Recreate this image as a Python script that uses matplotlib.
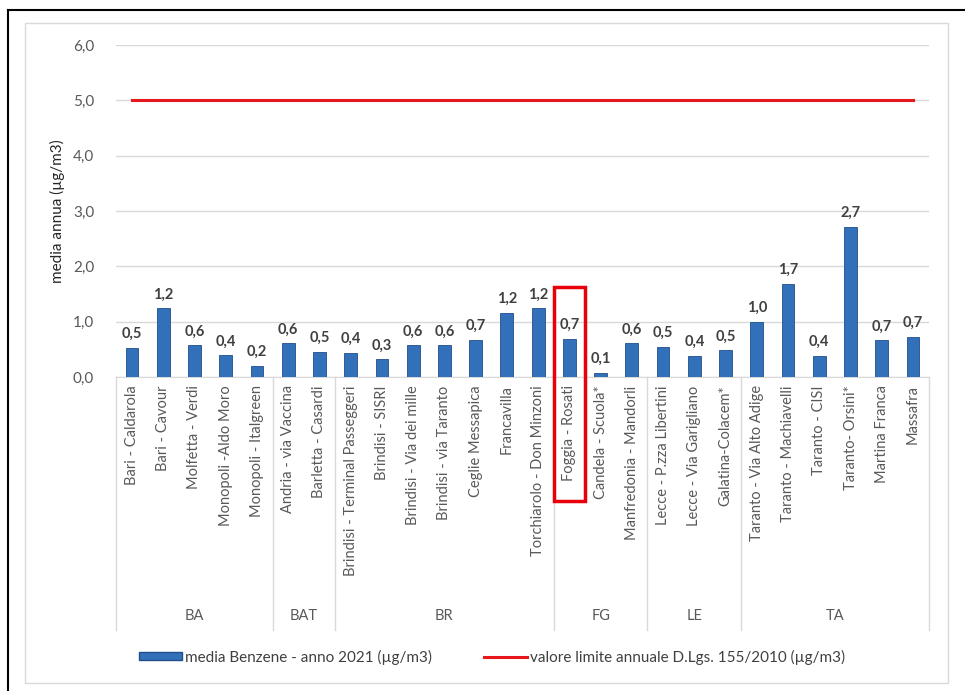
import matplotlib.pyplot as plt
import matplotlib.transforms as mtransforms
from matplotlib.patches import Rectangle, Patch
from matplotlib.lines import Line2D
import numpy as np

plt.rcParams['font.family'] = ['Lato', 'DejaVu Sans']

# stazioni e medie annue benzene 2021
stazioni = ['Bari - Caldarola', 'Bari - Cavour', 'Molfetta - Verdi', 'Monopoli -Aldo Moro',
            'Monopoli - Italgreen', 'Andria - via Vaccina', 'Barletta - Casardi',
            'Brindisi - Terminal Passeggeri', 'Brindisi - SISRI', 'Brindisi - Via dei mille',
            'Brindisi - via Taranto', 'Ceglie Messapica', 'Francavilla', 'Torchiarolo - Don Minzoni',
            'Foggia - Rosati', 'Candela - Scuola*', 'Manfredonia - Mandorli',
            'Lecce - P.zza Libertini', 'Lecce - Via Garigliano', 'Galatina-Colacem*',
            'Taranto - Via Alto Adige', 'Taranto - Machiavelli', 'Taranto - CISI',
            'Taranto- Orsini*', 'Martina Franca', 'Massafra']
media = [0.53, 1.24, 0.57, 0.39, 0.20, 0.61, 0.46, 0.44, 0.32, 0.57, 0.57, 0.67, 1.16, 1.24,
         0.69, 0.07, 0.61, 0.54, 0.38, 0.48, 1.00, 1.68, 0.38, 2.71, 0.66, 0.72]
province = ['BA', 'BAT', 'BR', 'FG', 'LE', 'TA']
n_prov = [5, 2, 7, 3, 3, 6]
limite = 5.0

fig = plt.figure(figsize=(9.65, 6.91), dpi=100)
ax = fig.add_axes([0.1206, 0.4544, 0.8417, 0.4805])

# cornici
fig.add_artist(Line2D([8/965, 1], [1-10/691, 1-10/691], color='black', lw=1.5))
fig.add_artist(Line2D([8/965, 8/965], [0, 1-10/691], color='black', lw=1.5))
fig.add_artist(Rectangle((25/965, 1-683/691), 923/965, 660/691, fill=False,
                         edgecolor='#D9D9D9', lw=1))

x = np.arange(len(stazioni))
ax.bar(x, media, width=0.41, color='#3271BA', edgecolor='#1F4E8A', lw=0.6, zorder=3)
ax.plot([x[0], x[-1]], [limite, limite], color='#E8171E', lw=2.2, zorder=4)

for xi, v in zip(x, media):
    ax.annotate(f'{v:.1f}'.replace('.', ','), (xi, v), xytext=(0, 5),
                textcoords='offset points', ha='center', va='bottom',
                fontsize=10.5, fontweight='bold', color='#404040')

ax.set_ylim(0, 6)
ax.set_xlim(-0.5, len(stazioni) - 0.5)
ax.set_yticks(range(7))
ax.set_yticklabels([f'{t:.1f}'.replace('.', ',') for t in range(7)])
ax.yaxis.grid(True, color='#D9D9D9', lw=1)
ax.set_axisbelow(True)
for s in ['top', 'right', 'left']:
    ax.spines[s].set_visible(False)
ax.spines['bottom'].set_color('#D9D9D9')
ax.tick_params(axis='y', length=0, pad=16, labelsize=11, labelcolor='#595959')
ax.set_xticks(x)
ax.set_xticklabels(stazioni, rotation=90, fontsize=10.5, color='#595959')
ax.tick_params(axis='x', length=0, pad=6)
ax.set_ylabel('media annua (µg/m3)', fontsize=11, color='#262626', labelpad=6)

# separatori e nomi delle province
trans = mtransforms.blended_transform_factory(ax.transData, ax.transAxes)
confini = np.concatenate([[0], np.cumsum(n_prov)]) - 0.5
for c in confini:
    ax.plot([c, c], [0, -0.762], color='#D9D9D9', lw=1, transform=trans, clip_on=False)
for p, a, b in zip(province, confini[:-1], confini[1:]):
    ax.text((a + b) / 2, -0.72, p, transform=trans, ha='center', va='center',
            fontsize=10.5, color='#595959')

# evidenziazione Foggia - Rosati
i_fg = stazioni.index('Foggia - Rosati')
ax.add_patch(Rectangle((i_fg - 0.5, -0.373), 1.0, 0.644, transform=trans, fill=False,
                       edgecolor='#E8000B', lw=2.5, clip_on=False, zorder=6))

handles = [Patch(facecolor='#3271BA', edgecolor='#1F4E8A'),
           Line2D([0], [0], color='#E8171E', lw=2.2)]
fig.legend(handles, ['media Benzene - anno 2021 (µg/m3)',
                     'valore limite annuale D.Lgs. 155/2010 (µg/m3)'],
           loc='center', bbox_to_anchor=(0.51, 1 - 657/691), ncol=2, frameon=False,
           fontsize=11, handlelength=2.8, handleheight=0.5, handletextpad=0.2,
           columnspacing=3.4, labelcolor='#404040')

fig.savefig('out.png', dpi=100)
